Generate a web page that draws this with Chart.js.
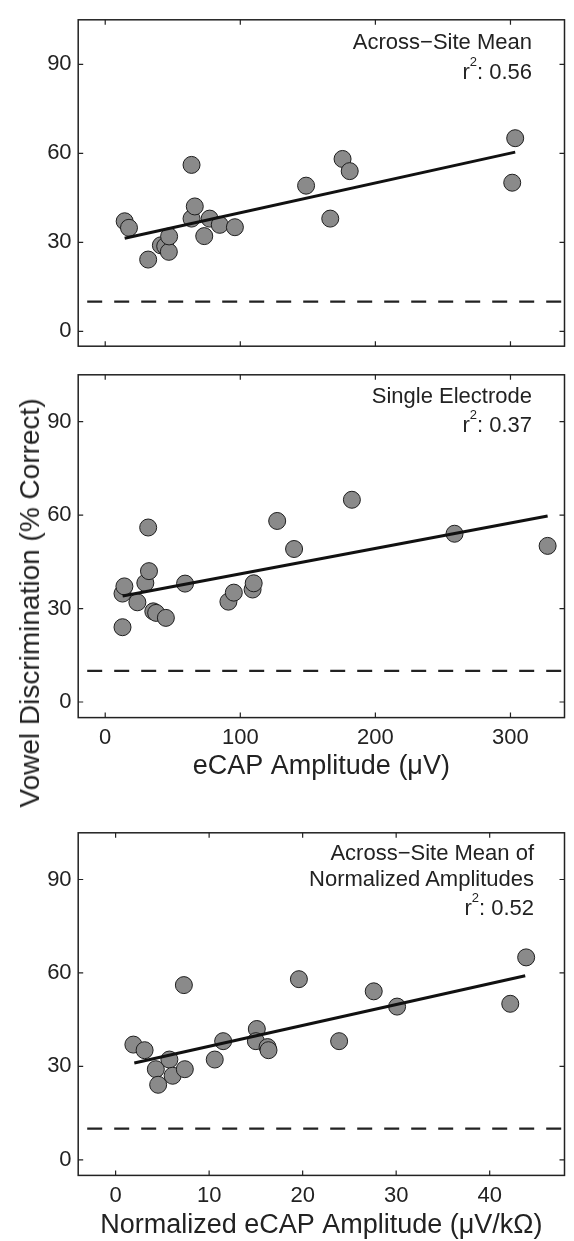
<!DOCTYPE html>
<html><head><meta charset="utf-8">
<script src="https://cdn.jsdelivr.net/npm/chart.js@4"></script>
<style>
html,body{margin:0;padding:0;background:#fff;}
body{width:574px;height:1241px;position:relative;overflow:hidden;font-family:"Liberation Sans",Arial,sans-serif;color:#222;}
canvas{position:absolute;left:0;}
.note{position:absolute;font-size:22px;line-height:22px;white-space:nowrap;text-align:right;}
.note sup{font-size:13px;line-height:0;vertical-align:baseline;position:relative;top:-13px;}
.ytitle{position:absolute;font-size:28px;line-height:28px;white-space:nowrap;transform:translate(-50%,-50%) rotate(-90deg);}
</style></head><body>
<canvas id="c1" width="574" height="366" style="top:0px"></canvas>
<canvas id="c2" width="574" height="440" style="top:355px"></canvas>
<canvas id="c3" width="574" height="428" style="top:813px"></canvas>
<div class="ytitle" style="left:30px;top:603px">Vowel Discrimination (% Correct)</div>
<div class="note" style="right:42px;top:31px">Across−Site Mean</div>
<div class="note" style="right:42px;top:61px">r<sup>2</sup>: 0.56</div>
<div class="note" style="right:42px;top:385px">Single Electrode</div>
<div class="note" style="right:42px;top:414px">r<sup>2</sup>: 0.37</div>
<div class="note" style="right:40px;top:842px">Across−Site Mean of</div>
<div class="note" style="right:40px;top:868px">Normalized Amplitudes</div>
<div class="note" style="right:40px;top:897px">r<sup>2</sup>: 0.52</div>
<script>
// ---- data ----
const yTicks = [0, 30, 60, 90];
const ampTicks = [0, 100, 200, 300];
const normTicks = [0, 10, 20, 30, 40];
const chanceY = [10, 10];
const ampRange = [-20, 340];
const normRange = [-4, 48];

const meanAmp = [14.4, 17.6, 31.8, 41.2, 44.4, 47.1, 47.3, 63.9, 63.9, 66.3, 73.3, 77.3, 84.8, 96.0, 148.7, 166.6, 175.7, 181.0, 301.3, 303.5];
const meanScore = [37.1, 34.9, 24.2, 29.0, 28.7, 26.8, 32.0, 56.1, 38.0, 42.1, 32.1, 38.0, 35.9, 35.1, 49.1, 38.0, 58.1, 54.0, 50.1, 65.1];
const meanFitX = [14.4, 303.5];
const meanFitY = [31.4, 60.4];

const singleAmp = [12.8, 12.8, 14.2, 23.8, 29.7, 32.4, 31.8, 35.6, 37.7, 44.9, 59.1, 91.2, 95.2, 109.1, 109.9, 127.3, 139.8, 182.6, 258.6, 327.5];
const singleScore = [24.0, 34.8, 37.1, 32.0, 38.2, 42.0, 56.0, 29.1, 28.6, 27.0, 38.0, 32.2, 35.1, 36.1, 38.1, 58.1, 49.1, 64.9, 54.0, 50.1];
const singleFitX = [12.9, 327.5];
const singleFitY = [34.0, 59.7];

const normAmp = [1.9, 3.1, 4.3, 4.55, 5.75, 6.1, 7.4, 7.3, 10.6, 11.5, 15.1, 15.0, 16.25, 16.35, 19.6, 23.9, 27.6, 30.1, 42.2, 43.9];
const normScore = [37.0, 35.2, 29.1, 24.1, 32.2, 27.0, 29.1, 56.1, 32.2, 38.1, 42.0, 38.1, 36.2, 35.2, 58.0, 38.1, 54.1, 49.2, 50.1, 65.0];
const normFitX = [2.0, 43.8];
const normFitY = [31.1, 59.1];

// ---- drawing ----
Chart.defaults.font.family = '"Liberation Sans", Arial, sans-serif';
Chart.defaults.color = '#222';

const framePlugin = {
  id: 'frame',
  afterDatasetsDraw(chart, args, opts) {
    const {ctx, chartArea: a} = chart;
    const x = chart.scales.x, y = chart.scales.y;
    ctx.save();
    ctx.strokeStyle = '#222';
    ctx.lineWidth = 1.5;
    ctx.strokeRect(a.left, a.top, a.right - a.left, a.bottom - a.top);
    ctx.beginPath();
    const L = 5;
    opts.xTicks.forEach(v => {
      const px = x.getPixelForValue(v);
      ctx.moveTo(px, a.bottom); ctx.lineTo(px, a.bottom - L);
      ctx.moveTo(px, a.top); ctx.lineTo(px, a.top + L);
    });
    yTicks.forEach(v => {
      const py = y.getPixelForValue(v);
      ctx.moveTo(a.left, py); ctx.lineTo(a.left + L, py);
      ctx.moveTo(a.right, py); ctx.lineTo(a.right - L, py);
    });
    ctx.lineWidth = 1.2;
    ctx.stroke();
    ctx.restore();
  }
};

function pts(xs, ys) { return xs.map((v, i) => ({x: v, y: ys[i]})); }

function makePanel(id, xs, ys, fx, fy, range, xTicks, xTitle, xHeight, padTop, padBottom) {
  new Chart(document.getElementById(id), {
    type: 'scatter',
    data: {
      datasets: [
        {data: pts(fx, fy), showLine: true, borderColor: '#111', borderWidth: 3, pointRadius: 0, order: 0},
        {data: pts(xs, ys), pointRadius: 8.5, pointBorderWidth: 1, backgroundColor: '#8a8a8a', borderColor: '#1e1e1e', order: 1},
        {data: pts(range, chanceY), showLine: true, borderColor: '#222', borderWidth: 2.2, borderDash: [15, 12], borderDashOffset: 18, pointRadius: 0, order: 2}
      ]
    },
    options: {
      responsive: false, animation: false, events: [],
      layout: {padding: {left: 0, right: 1, top: padTop, bottom: padBottom}},
      plugins: {legend: {display: false}, tooltip: {enabled: false}, frame: {xTicks: xTicks}},
      scales: {
        x: {
          type: 'linear', min: range[0], max: range[1],
          grid: {display: false, drawTicks: false}, border: {display: false},
          afterBuildTicks: s => { s.ticks = xTicks.map(v => ({value: v})); },
          afterFit: s => { s.height = xHeight; },
          ticks: {display: !!xTitle, autoSkip: false, maxRotation: 0, padding: 7, font: {size: 22}, color: '#222'},
          title: {display: !!xTitle, text: xTitle || '', font: {size: 27, lineHeight: 1}, color: '#222', padding: {top: 0, bottom: id === 'c2' ? 14.5 : 1.6}}
        },
        y: {
          type: 'linear', min: -5, max: 105,
          grid: {display: false, drawTicks: false}, border: {display: false},
          afterBuildTicks: s => { s.ticks = yTicks.map(v => ({value: v})); },
          afterFit: s => { s.width = 78.2; },
          ticks: {autoSkip: false, padding: 6.6, font: {size: 22}, color: '#222'}
        }
      }
    },
    plugins: [framePlugin]
  });
}

makePanel('c1', meanAmp, meanScore, meanFitX, meanFitY, ampRange, ampTicks, null, 0, 9.3, 2.5);
makePanel('c2', singleAmp, singleScore, singleFitX, singleFitY, ampRange, ampTicks, 'eCAP Amplitude (μV)', 77.4, 8.1, 0);
makePanel('c3', normAmp, normScore, normFitX, normFitY, normRange, normTicks, 'Normalized eCAP Amplitude (μV/kΩ)', 65.6, 8, 0);
</script>
</body></html>
